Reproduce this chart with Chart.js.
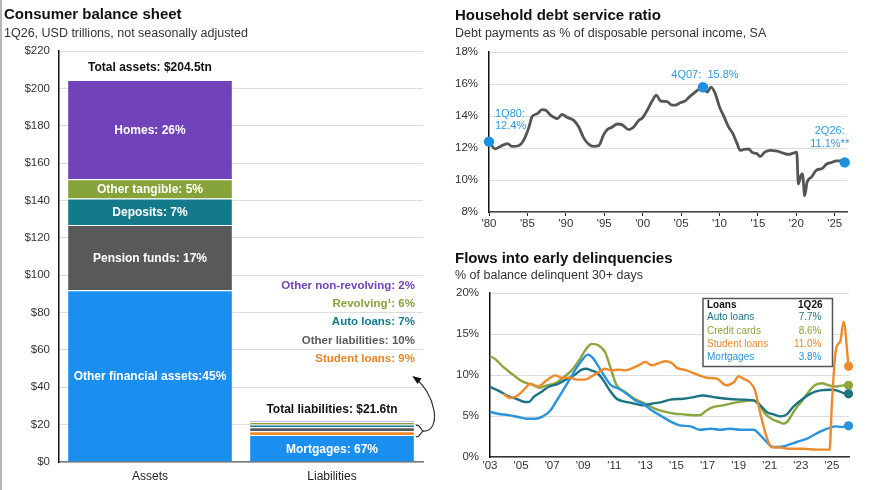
<!DOCTYPE html>
<html><head><meta charset="utf-8">
<script src="https://cdn.jsdelivr.net/npm/chart.js@4.4.1/dist/chart.umd.min.js"></script>
<style>
html,body{margin:0;padding:0;background:#fff;}
body{width:879px;height:490px;position:relative;overflow:hidden;font-family:"Liberation Sans",Arial,Helvetica,sans-serif;}
.t{position:absolute;font-weight:bold;font-size:15px;line-height:16px;color:#111;white-space:nowrap;}
.s{position:absolute;font-size:12.5px;line-height:14px;color:#333;white-space:nowrap;}
canvas{position:absolute;}
#edge{position:absolute;left:0;top:0;width:2px;height:490px;background:#b8b8b8;}
</style></head><body>
<div id="edge"></div>
<canvas id="c1" width="435" height="490" style="left:0;top:0;width:435px;height:490px"></canvas>
<canvas id="c2" width="439" height="240" style="left:440px;top:0;width:439px;height:240px"></canvas>
<canvas id="c3" width="439" height="250" style="left:440px;top:240px;width:439px;height:250px"></canvas>
<div class="t" style="left:4px;top:6px">Consumer balance sheet</div>
<div class="s" style="left:4px;top:26px">1Q26, USD trillions, not seasonally adjusted</div>
<div class="t" style="left:455px;top:7px">Household debt service ratio</div>
<div class="s" style="left:455px;top:26px">Debt payments as % of disposable personal income, SA</div>
<div class="t" style="left:455px;top:250px">Flows into early delinquencies</div>
<div class="s" style="left:455px;top:268px">% of balance delinquent 30+ days</div>
<script>
// ---------- DATA ----------
const barCategories = ['Assets', 'Liabilities'];
const barTicks = [0, 20, 40, 60, 80, 100, 120, 140, 160, 180, 200, 220];
const assetNames = ['Other financial assets', 'Pension funds', 'Deposits', 'Other tangible', 'Homes'];
const assetValues = [92.0, 34.8, 14.3, 10.2, 53.2];
const assetLabels = ['Other financial assets:45%', 'Pension funds: 17%', 'Deposits: 7%', 'Other tangible: 5%', 'Homes: 26%'];
const liabNames = ['Mortgages', 'Student loans', 'Other liabilities', 'Auto loans', 'Revolving', 'Other non-revolving'];
const liabValues = [14.5, 1.94, 2.16, 1.51, 1.3, 0.43];
const liabLabels = ['Mortgages: 67%', 'Student loans: 9%', 'Other liabilities: 10%', 'Auto loans: 7%', 'Revolving\u00B9: 6%', 'Other non-revolving: 2%'];
const totalLabels = ['Total assets: $204.5tn', 'Total liabilities: $21.6tn'];

const dsrTickYears = [1980, 1985, 1990, 1995, 2000, 2005, 2010, 2015, 2020, 2025];
const dsrDates = [1980.0,1980.8,1981.5,1982.4,1983.0,1983.9,1984.5,1985.2,1985.6,1986.3,1986.9,1987.4,1988.0,1988.9,1989.5,1990.2,1991.0,1991.7,1992.3,1993.0,1993.6,1994.3,1994.9,1995.4,1996.0,1996.7,1997.3,1998.2,1998.8,1999.5,1999.9,2000.6,2001.2,2001.8,2002.3,2003.2,2003.8,2004.25,2004.9,2005.55,2006.0,2006.6,2007.3,2007.85,2008.4,2008.9,2009.45,2010.0,2010.5,2011.2,2011.7,2012.3,2012.7,2013.1,2013.8,2014.2,2014.9,2015.3,2015.9,2016.6,2017.5,2018.3,2019.0,2019.6,2020.05,2020.27,2020.6,2020.8,2021.1,2021.4,2022.0,2022.65,2023.3,2023.95,2024.6,2025.25,2025.9,2026.3];
const dsrValues = [12.4,11.95,12.1,12.27,12.1,12.16,12.48,13.3,13.95,14.15,14.4,14.36,14.05,13.84,14.1,13.9,13.74,13.3,12.65,12.23,12.1,12.16,12.8,13.15,13.3,13.5,13.46,13.15,13.3,13.74,13.84,14.36,14.9,15.3,14.95,14.9,14.68,14.68,14.83,14.95,15.16,15.4,15.66,15.8,15.5,15.8,15.4,14.57,14.05,13.3,12.94,12.27,11.85,11.9,11.95,11.74,11.64,11.47,11.74,11.85,11.8,11.68,11.6,11.68,11.74,9.75,10.28,10.38,9.02,9.86,10.2,10.63,10.7,11.0,11.1,11.2,11.2,11.1];
const hlDates = [1980.0, 2007.85, 2026.3];
const hlValues = [12.4, 15.8, 11.1];
const hlLabels = [['1Q80:', '12.4%'], ['4Q07:  15.8%'], ['2Q26:', '11.1%**']];

const delTickYears = [2003, 2005, 2007, 2009, 2011, 2013, 2015, 2017, 2019, 2021, 2023, 2025];
const autoDates = [2003.0,2003.5,2004.2,2004.7,2005.25,2005.5,2005.8,2006.3,2006.75,2007.3,2007.8,2008.4,2008.9,2009.2,2009.5,2009.9,2010.3,2010.7,2011.15,2011.6,2012.1,2012.8,2013.4,2014.05,2014.6,2015.45,2016.1,2016.7,2017.4,2018.2,2019.1,2019.95,2020.4,2020.8,2021.25,2021.7,2022.1,2022.5,2023.0,2023.6,2024.25,2024.9,2025.3,2025.75,2026.07];
const autoValues = [8.54,8.13,7.4,7.1,6.7,6.7,7.3,7.93,8.54,8.86,9.35,9.96,10.65,10.77,10.57,10.24,9.35,8.13,7.1,6.78,6.6,6.3,6.5,6.7,7.0,7.1,7.3,7.5,7.3,7.1,7.0,6.9,6.3,5.5,5.2,4.96,5.2,6.1,6.9,7.7,8.13,8.2,8.13,7.8,7.7];
const creditDates = [2003.0,2003.3,2003.85,2004.4,2004.9,2005.35,2005.8,2006.2,2006.65,2007.2,2007.7,2008.25,2008.8,2009.2,2009.55,2010.0,2010.4,2010.7,2011.15,2011.7,2012.3,2013.0,2013.6,2014.3,2014.9,2015.45,2016.1,2016.5,2016.95,2017.4,2018.0,2018.7,2019.3,2019.95,2020.3,2020.7,2021.1,2021.6,2021.9,2022.2,2022.6,2023.1,2023.5,2023.9,2024.35,2024.8,2025.3,2025.75,2026.07];
const creditValues = [12.28,12.0,10.98,10.16,9.43,9.0,8.74,8.45,8.74,9.0,9.67,10.57,12.0,13.2,13.8,13.6,12.8,11.2,8.74,7.93,7.1,6.5,5.9,5.5,5.28,5.2,5.1,5.1,5.7,6.1,6.3,6.6,6.8,6.9,6.5,5.28,4.67,4.27,4.07,4.47,5.7,6.9,7.93,8.74,9.0,8.74,8.6,8.74,8.74];
const studentDates = [2003.85,2004.3,2004.7,2005.15,2005.6,2006.1,2006.65,2007.2,2007.6,2008.15,2008.6,2009.1,2009.55,2010.0,2010.4,2010.8,2011.3,2011.7,2012.1,2012.55,2013.0,2013.4,2013.8,2014.3,2014.7,2015.0,2015.65,2016.3,2016.95,2017.6,2018.2,2018.7,2019.0,2019.3,2019.7,2020.05,2020.4,2020.8,2021.1,2021.7,2022.3,2023.2,2024.0,2024.85,2025.0,2025.25,2025.55,2025.75,2026.07];
const studentValues = [7.7,7.2,7.4,8.13,8.94,8.6,9.35,9.96,9.67,9.67,9.43,9.43,9.84,10.37,10.77,10.57,10.65,10.57,10.77,11.18,11.6,11.18,11.4,11.67,11.46,10.9,10.57,10.08,9.67,9.55,8.74,9.15,9.84,9.55,9.15,8.13,5.28,2.44,1.22,1.14,1.0,1.0,0.9,0.9,6.5,13.0,14.2,16.5,11.06];
const mortDates = [2003.0,2003.5,2004.2,2004.8,2005.35,2005.9,2006.4,2006.9,2007.3,2007.7,2008.15,2008.6,2009.0,2009.3,2009.65,2010.0,2010.4,2010.8,2011.3,2011.8,2012.35,2012.9,2013.4,2014.05,2014.6,2015.2,2015.9,2016.5,2017.2,2017.8,2018.45,2019.1,2019.95,2020.4,2020.8,2021.1,2021.6,2022.1,2022.75,2023.4,2024.0,2024.7,2025.2,2025.65,2026.07];
const mortValues = [5.5,5.28,5.1,4.88,4.67,4.67,4.96,5.7,6.9,8.13,9.55,10.98,12.0,12.48,12.0,10.98,9.76,8.74,8.33,7.7,6.9,6.42,5.7,4.96,4.35,3.86,3.74,3.33,3.45,3.33,3.45,3.33,3.33,2.64,1.83,1.3,1.22,1.42,1.83,2.24,2.85,3.45,3.74,3.66,3.8];
const loanNames = ['Auto loans', 'Credit cards', 'Student loans', 'Mortgages'];
const loanLatest = ['7.7%', '8.6%', '11.0%', '3.8%'];
const loanHeader = ['Loans', '1Q26'];

// ---------- STYLE ----------
const FONT = '"Liberation Sans", Arial, Helvetica, sans-serif';
Chart.defaults.font.family = FONT;
Chart.defaults.color = '#333';
Chart.defaults.animation = false;
Chart.defaults.plugins.legend.display = false;
Chart.defaults.plugins.tooltip.enabled = false;
const GRID = '#dcdcdc';
const C_BLUE = '#1a8ff0', C_GREY = '#58595b', C_TEAL = '#137a8c', C_GREEN = '#86a33a', C_PURPLE = '#7142b9', C_ORANGE = '#e98a2e';
const assetColors = [C_BLUE, C_GREY, C_TEAL, C_GREEN, C_PURPLE];
const liabColors = [C_BLUE, C_ORANGE, C_GREY, C_TEAL, C_GREEN, C_PURPLE];
const liabTextColors = ['#fff', '#e8842a', '#5a5a5a', '#137a8c', '#86a33a', '#7142b9'];
const loanColors = ['#1d7383', '#8aa63c', '#ec8a2c', '#2a93dc'];
const zip = (xs, ys) => xs.slice(0, Math.min(xs.length, ys.length)).map((x, i) => ({x: x, y: ys[i]}));

// ---------- CHART 1: balance sheet ----------
const barSets = [];
assetValues.forEach((v, i) => barSets.push({label: assetNames[i], data: [v, null], backgroundColor: assetColors[i], inner: assetLabels[i]}));
liabValues.forEach((v, i) => barSets.push({label: liabNames[i], data: [null, v], backgroundColor: liabColors[i], inner: i === 0 ? liabLabels[0] : null}));
barSets.forEach(d => { d.borderColor = 'rgba(255,255,255,0.9)'; d.borderWidth = {top: 1, left: 0, right: 0, bottom: 0}; d.barPercentage = 0.9; d.categoryPercentage = 1.0; });

const balancePlugin = {
  id: 'bal',
  afterDatasetsDraw(chart) {
    const ctx = chart.ctx, ys = chart.scales.y;
    ctx.save();
    ctx.textAlign = 'center'; ctx.textBaseline = 'middle';
    ctx.font = 'bold 12px ' + FONT;
    chart.data.datasets.forEach((ds, di) => {
      if (!ds.inner) return;
      const idx = ds.data[0] != null ? 0 : 1;
      const el = chart.getDatasetMeta(di).data[idx];
      ctx.fillStyle = '#fff';
      ctx.fillText(ds.inner, el.x, (el.y + el.base) / 2 + 1);
    });
    const topA = chart.getDatasetMeta(assetValues.length - 1).data[0];
    const topL = chart.getDatasetMeta(barSets.length - 1).data[1];
    ctx.fillStyle = '#111';
    ctx.fillText(totalLabels[0], topA.x, topA.y - 12);
    ctx.fillText(totalLabels[1], topL.x, topL.y - 12);
    // breakdown list
    ctx.textAlign = 'right';
    ctx.font = 'bold 11.5px ' + FONT;
    const rx = topL.x + topL.width / 2 + 1;
    const y0 = ys.getPixelForValue(94.4);
    let r = 0;
    for (let k = liabLabels.length - 1; k >= 1; k--, r++) {
      ctx.fillStyle = liabTextColors[k];
      ctx.fillText(liabLabels[k], rx, y0 + r * 18.3);
    }
    // bracket
    const bx = rx + 1;
    const yT = topL.y + 4;
    const yB = ys.getPixelForValue(liabValues[0]) + 2;
    const ym = (yT + yB) / 2;
    ctx.strokeStyle = '#333'; ctx.lineWidth = 1.2;
    ctx.beginPath();
    ctx.moveTo(bx, yT);
    ctx.bezierCurveTo(bx + 6, yT, bx + 4, ym, bx + 8, ym);
    ctx.bezierCurveTo(bx + 4, ym, bx + 6, yB, bx, yB);
    ctx.stroke();
    // curved arrow
    const ex = rx - 1, ey = y0 + r * 18.3 + 0;
    const c1x = bx + 26, c1y = ym, c2x = bx + 20, c2y = ey + 16;
    ctx.beginPath();
    ctx.moveTo(bx + 8, ym);
    ctx.bezierCurveTo(c1x, c1y, c2x, c2y, ex, ey);
    ctx.stroke();
    const ang = Math.atan2(ey - c2y, ex - c2x);
    ctx.fillStyle = '#111';
    ctx.beginPath();
    ctx.moveTo(ex + 2 * Math.cos(ang), ey + 2 * Math.sin(ang));
    ctx.lineTo(ex - 7 * Math.cos(ang) + 3.5 * Math.sin(ang), ey - 7 * Math.sin(ang) - 3.5 * Math.cos(ang));
    ctx.lineTo(ex - 7 * Math.cos(ang) - 3.5 * Math.sin(ang), ey - 7 * Math.sin(ang) + 3.5 * Math.cos(ang));
    ctx.closePath(); ctx.fill();
    ctx.restore();
  }
};

new Chart(document.getElementById('c1'), {
  type: 'bar',
  data: {labels: barCategories, datasets: barSets},
  options: {
    responsive: false,
    layout: {padding: {left: 0, right: 12, top: 51, bottom: 8}},
    scales: {
      x: {stacked: true, grid: {display: false, drawTicks: false}, border: {display: true, color: '#777', width: 1.5},
          ticks: {padding: 7, color: '#222', font: {size: 12}}, afterFit: s => { s.height = 20; }},
      y: {stacked: true, min: 0, max: 220,
          afterBuildTicks: s => { s.ticks = barTicks.map(v => ({value: v})); },
          grid: {color: GRID, lineWidth: 1, drawTicks: false},
          border: {display: true, color: '#111', width: 1.5},
          ticks: {padding: 9, color: '#333', font: {size: 11.5}, callback: v => '$' + v},
          afterFit: s => { s.width = 59; }}
    }
  },
  plugins: [balancePlugin]
});

// ---------- CHART 2: debt service ratio ----------
const dsrPlugin = {
  id: 'dsr',
  afterDatasetsDraw(chart) {
    const ctx = chart.ctx, xs = chart.scales.x, ys = chart.scales.y;
    ctx.save();
    ctx.font = '11px ' + FONT; ctx.fillStyle = '#2f9be0'; ctx.textBaseline = 'middle';
    const p = hlDates.map((d, i) => ({x: xs.getPixelForValue(d), y: ys.getPixelForValue(hlValues[i])}));
    ctx.textAlign = 'left';
    ctx.fillText(hlLabels[0][0], p[0].x + 6, p[0].y - 28);
    ctx.fillText(hlLabels[0][1], p[0].x + 6, p[0].y - 16);
    ctx.textAlign = 'center';
    ctx.fillText(hlLabels[1][0], p[1].x + 2, p[1].y - 12);
    ctx.fillText(hlLabels[2][0], p[2].x - 15, p[2].y - 31);
    ctx.fillText(hlLabels[2][1], p[2].x - 15, p[2].y - 18);
    ctx.restore();
  }
};

new Chart(document.getElementById('c2'), {
  type: 'line',
  data: {datasets: [
    {data: zip(hlDates, hlValues), showLine: false, pointRadius: 5.2, pointBackgroundColor: '#1e90e0', pointBorderWidth: 0, clip: false},
    {data: zip(dsrDates, dsrValues), borderColor: '#555', borderWidth: 2.8, pointRadius: 0, cubicInterpolationMode: 'monotone'}
  ]},
  options: {
    responsive: false,
    layout: {padding: {left: 0, right: 32, top: 52, bottom: 8}},
    scales: {
      x: {type: 'linear', min: 1980, max: 2026.6,
          afterBuildTicks: s => { s.ticks = dsrTickYears.map(v => ({value: v})); },
          grid: {drawOnChartArea: false, drawTicks: true, tickLength: 4, tickColor: '#333', lineWidth: 1},
          border: {display: true, color: '#444', width: 1.5},
          ticks: {padding: 1, color: '#333', font: {size: 11.5}, maxRotation: 0, autoSkip: false,
                  callback: v => "'" + String(v % 100).padStart(2, '0')},
          afterFit: s => { s.height = 20; }},
      y: {min: 8, max: 18,
          afterBuildTicks: s => { s.ticks = [8, 10, 12, 14, 16, 18].map(v => ({value: v})); },
          grid: {color: GRID, lineWidth: 1, drawTicks: false},
          border: {display: true, color: '#111', width: 1.5},
          ticks: {padding: 11, color: '#333', font: {size: 11.5}, callback: v => v + '%'},
          afterFit: s => { s.width = 49; }}
    }
  },
  plugins: [dsrPlugin]
});

// ---------- CHART 3: delinquencies ----------
const legendBoxPlugin = {
  id: 'lbox',
  afterDraw(chart) {
    const ctx = chart.ctx, a = chart.chartArea;
    const bx = a.left + 213, by = a.top + 5.5, bw = 129.5, bh = 68;
    ctx.save();
    ctx.fillStyle = '#fff'; ctx.fillRect(bx, by, bw, bh);
    ctx.strokeStyle = '#555'; ctx.lineWidth = 1.5; ctx.strokeRect(bx, by, bw, bh);
    ctx.textBaseline = 'middle';
    ctx.font = 'bold 10px ' + FONT; ctx.fillStyle = '#111';
    ctx.textAlign = 'left'; ctx.fillText(loanHeader[0], bx + 4, by + 7);
    ctx.textAlign = 'right'; ctx.fillText(loanHeader[1], bx + bw - 10, by + 7);
    ctx.font = '10px ' + FONT;
    loanNames.forEach((n, i) => {
      const yy = by + 19 + i * 13.3;
      ctx.fillStyle = loanColors[i];
      ctx.textAlign = 'left'; ctx.fillText(n, bx + 4, yy);
      ctx.textAlign = 'right'; ctx.fillText(loanLatest[i], bx + bw - 11, yy);
    });
    ctx.restore();
  }
};
const endDot = ctx => ctx.dataIndex === ctx.dataset.data.length - 1 ? 4.6 : 0;
const lineSet = (xs, ys, col) => ({data: zip(xs, ys), borderColor: col, backgroundColor: col, borderWidth: 2.4,
  pointRadius: endDot, pointBackgroundColor: col, pointBorderWidth: 0, cubicInterpolationMode: 'monotone', clip: false});

new Chart(document.getElementById('c3'), {
  type: 'line',
  data: {datasets: [
    lineSet(studentDates, studentValues, loanColors[2]),
    lineSet(mortDates, mortValues, loanColors[3]),
    lineSet(autoDates, autoValues, loanColors[0]),
    lineSet(creditDates, creditValues, loanColors[1])
  ]},
  options: {
    responsive: false,
    layout: {padding: {left: 0, right: 30, top: 53, bottom: 13}},
    scales: {
      x: {type: 'linear', min: 2003, max: 2026.1,
          afterBuildTicks: s => { s.ticks = delTickYears.map(v => ({value: v})); },
          grid: {display: false, drawTicks: false},
          border: {display: true, color: '#333', width: 1.5},
          ticks: {padding: 2, color: '#333', font: {size: 11.5}, maxRotation: 0, autoSkip: false,
                  callback: v => "'" + String(v % 100).padStart(2, '0')},
          afterFit: s => { s.height = 20; }},
      y: {min: 0, max: 20,
          afterBuildTicks: s => { s.ticks = [0, 5, 10, 15, 20].map(v => ({value: v})); },
          grid: {color: GRID, lineWidth: 1, drawTicks: false},
          border: {display: true, color: '#111', width: 1.5},
          ticks: {padding: 11, color: '#333', font: {size: 11.5}, callback: v => v + '%'},
          afterFit: s => { s.width = 50; }}
    }
  },
  plugins: [legendBoxPlugin]
});
</script>
</body></html>
